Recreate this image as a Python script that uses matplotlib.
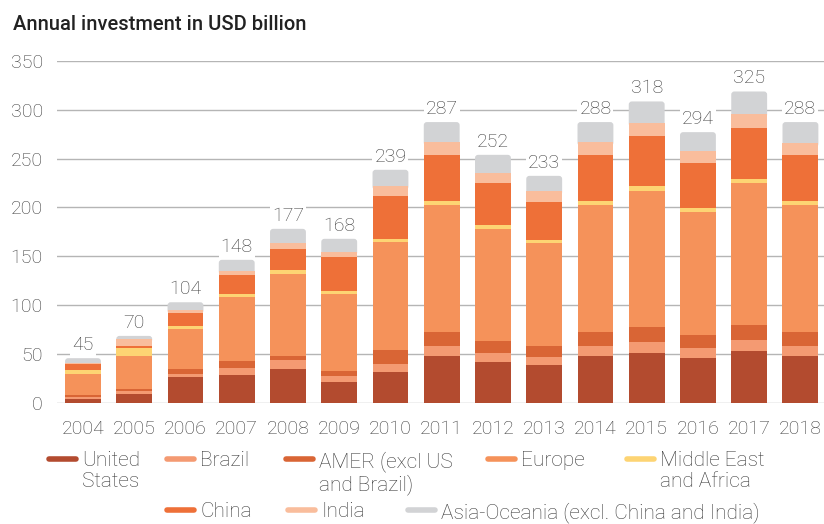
"""Stacked bars of annual investment by region, 2004-2018."""

import matplotlib.pyplot as plt
from matplotlib.lines import Line2D
from matplotlib.patches import FancyBboxPatch
import numpy as np

plt.rcParams["font.family"] = ["Roboto", "DejaVu Sans"]

years = ["2004", "2005", "2006", "2007", "2008", "2009", "2010", "2011",
         "2012", "2013", "2014", "2015", "2016", "2017", "2018"]
totals = [45, 70, 104, 148, 177, 168, 239, 287, 252, 233, 288, 318, 294, 325, 288]

us = [3.8, 9.6, 27.0, 29.0, 34.8, 21.5, 31.7, 48.4, 42.3, 39.2, 48.4, 51.5, 46.4, 53.5, 48.4]
brazil = [2.7, 2.7, 3.0, 6.8, 9.2, 6.5, 8.2, 10.3, 8.9, 8.2, 10.3, 10.9, 10.2, 11.0, 10.3]
amer = [2.0, 2.4, 4.8, 7.2, 4.4, 4.8, 14.3, 14.3, 12.3, 11.3, 14.3, 15.7, 13.0, 15.3, 14.3]
europe = [21.5, 33.7, 41.2, 65.8, 84.0, 78.8, 110.6, 129.0, 114.9, 105.4, 129.0, 139.2, 126.2, 144.7, 129.0]
mea = [3.8, 7.9, 3.2, 2.8, 3.7, 3.0, 3.1, 4.8, 4.1, 2.7, 4.8, 4.8, 4.1, 4.8, 4.8]
china = [6.5, 2.4, 13.3, 19.4, 21.5, 34.2, 43.3, 47.0, 42.0, 39.2, 47.0, 51.2, 45.7, 52.2, 47.0]
india = [0.5, 6.8, 3.0, 4.1, 6.2, 5.8, 10.9, 13.3, 10.9, 10.3, 13.3, 13.3, 12.3, 14.3, 12.0]
asia = [5.0, 3.1, 7.5, 11.3, 14.3, 13.3, 16.4, 20.2, 18.4, 16.0, 20.2, 21.8, 19.1, 22.8, 21.5]

labels = ["United\nStates", "Brazil", "AMER (excl US\nand Brazil)", "Europe",
          "Middle East\nand Africa", "China", "India",
          "Asia-Oceania (excl. China and India)"]
colors = ["#B34B2F", "#F49A72", "#D96535", "#F5925A", "#FDD473",
          "#EE7038", "#F9BD9C", "#D2D3D5"]
series = [us, brazil, amer, europe, mea, china, india, asia]

TEXT = "#3a3a3a"

fig = plt.figure(figsize=(8.24, 5.24), dpi=100)
ax = fig.add_axes([0.069, 0.231, 0.931, 0.653])

x = np.arange(len(years))
width = 0.7
bottom = np.zeros(len(years))
for vals, col in zip(series[:-1], colors[:-1]):
    ax.bar(x, vals, width, bottom=bottom, color=col, linewidth=0, zorder=3)
    bottom += np.array(vals)

# top segment with rounded corners; its lower part hides under the India segment
r = 0.06
aspect = 52.0
for xi, b, h in zip(x, bottom, asia):
    ax.add_patch(FancyBboxPatch((xi - width / 2, b - 4), width, h + 4,
                                boxstyle=f"round,pad=0,rounding_size={r}",
                                mutation_aspect=aspect, facecolor=colors[-1],
                                linewidth=0, zorder=2))
tops = bottom + np.array(asia)

for xi, t, lab in zip(x, tops, totals):
    ax.annotate(str(lab), (xi, t), xytext=(0, 3), textcoords="offset points",
                ha="center", va="bottom", fontsize=14, color=TEXT,
                fontweight="light",
                bbox=dict(boxstyle="square,pad=0.1", fc="white", ec="none"),
                zorder=4)

ax.set_xlim(-0.51, 14.46)
ax.set_ylim(0, 350)
ax.set_yticks(range(0, 351, 50))
ax.set_xticks(x)
ax.set_xticklabels(years)
ax.grid(axis="y", color="#b5b5b5", linewidth=1.0, zorder=0)
ax.tick_params(axis="both", length=0, labelsize=14, labelcolor=TEXT)
ax.tick_params(axis="y", pad=10)
ax.tick_params(axis="x", pad=12.5)
for lbl in ax.get_xticklabels() + ax.get_yticklabels():
    lbl.set_fontweight("light")
for s in ax.spines.values():
    s.set_visible(False)

fig.text(13 / 824, 1 - 24 / 524, "Annual investment in USD billion",
         fontsize=14.5, fontweight="medium", color="#222222", va="center")

# legend laid out by hand: two rows, second row indented
leg_pos = [(47, 460), (165, 460), (284, 460), (486, 460), (625, 460),
           (165, 511), (286, 511), (406, 511)]
for (px, py), lab, col in zip(leg_pos, labels, colors):
    fx0, fx1 = (px + 2) / 824, (px + 29) / 824
    fy = 1 - (py - 1) / 524
    fig.add_artist(Line2D([fx0, fx1], [fy, fy], color=col, linewidth=4,
                          solid_capstyle="round", transform=fig.transFigure))
    fig.text((px + 35) / 824, 1 - (py - 9) / 524, lab, fontsize=15,
             fontweight="light", color=TEXT, va="top", linespacing=1.12)

fig.savefig("out.png", dpi=100)
